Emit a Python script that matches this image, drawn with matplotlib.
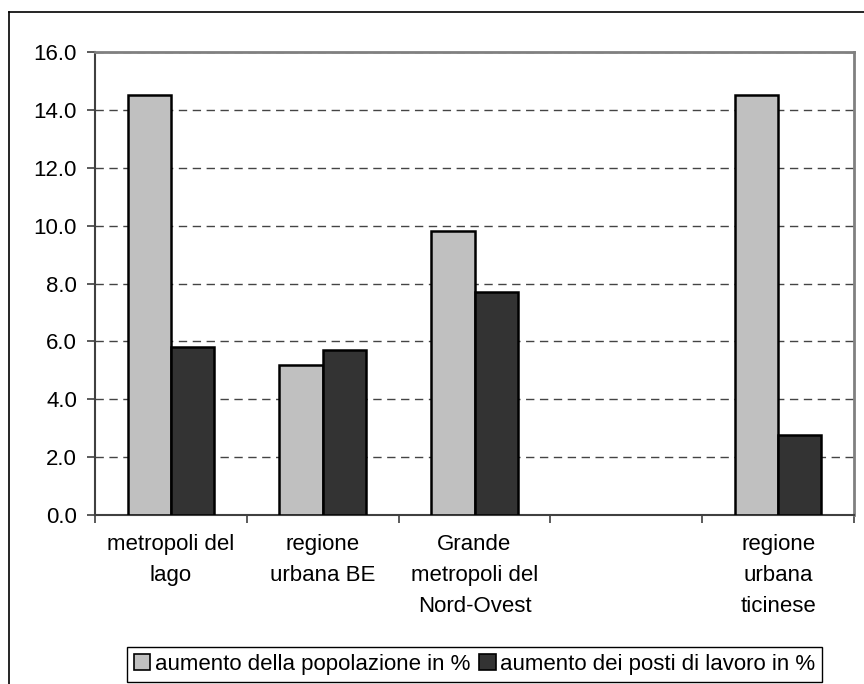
import numpy as np
import matplotlib
matplotlib.use("Agg")
import matplotlib.pyplot as plt
from matplotlib.patches import Patch
from matplotlib.lines import Line2D

plt.rcParams['font.family'] = ['Liberation Sans', 'DejaVu Sans']

categories = ["metropoli del\nlago", "regione\nurbana BE",
              "Grande\nmetropoli del\nNord-Ovest", "", "regione\nurbana\nticinese"]
popolazione = [14.5, 5.2, 9.8, np.nan, 14.5]
posti_lavoro = [5.8, 5.7, 7.7, np.nan, 2.75]
legend_labels = ["aumento della popolazione in %", "aumento dei posti di lavoro in %"]

fig = plt.figure(figsize=(8.64, 6.84), dpi=100)
ax = fig.add_axes([95 / 864, 1 - 515 / 684, 759 / 864, 463 / 684])

x = np.arange(len(categories))
w = 1 / 3.5
ax.bar(x - w / 2, popolazione, w, color="#c0c0c0", edgecolor="black", linewidth=1.8, zorder=3)
ax.bar(x + w / 2, posti_lavoro, w, color="#333333", edgecolor="black", linewidth=1.8, zorder=3)

ax.set_xlim(-0.5, len(categories) - 0.5)
ax.set_ylim(0, 16)
ax.set_yticks(np.arange(0, 16.1, 2))
ax.set_yticklabels([f"{v:.1f}" for v in np.arange(0, 16.1, 2)])
ax.yaxis.grid(True, linestyle=(0, (6, 4)), color="#444444", linewidth=1, zorder=0)

ax.set_xticks(x)
ax.set_xticklabels(categories, linespacing=1.6)
ax.set_xticks(np.arange(-0.5, len(categories), 1), minor=True)
ax.tick_params(axis="x", which="major", length=0, pad=14, labelsize=16)
ax.tick_params(axis="x", which="minor", length=6, width=1.2, color="#404040")
ax.tick_params(axis="y", length=6, width=1.2, color="#404040", pad=7, labelsize=16)

for s in ["left", "bottom"]:
    ax.spines[s].set_color("#404040")
    ax.spines[s].set_linewidth(1.5)
for s in ["top", "right"]:
    ax.spines[s].set_color("#808080")
    ax.spines[s].set_linewidth(2)

# outer chart frame (only left and top visible)
fig.add_artist(Line2D([9 / 864, 9 / 864], [0, 1 - 12 / 684], color="black", lw=1.2))
fig.add_artist(Line2D([9 / 864, 1], [1 - 12 / 684, 1 - 12 / 684], color="black", lw=1.2))

handles = [Patch(facecolor="#c0c0c0", edgecolor="black", linewidth=1.2),
           Patch(facecolor="#333333", edgecolor="black", linewidth=1.2)]
leg = fig.legend(handles, legend_labels, loc="center", bbox_to_anchor=(474.5 / 864, 1 - 664.5 / 684),
                 ncol=2, fontsize=16, frameon=True, fancybox=False, framealpha=1,
                 handlelength=0.75, handleheight=0.75, handletextpad=0.2,
                 columnspacing=0.4, borderpad=0.3, borderaxespad=0)
leg.get_frame().set_edgecolor("black")
leg.get_frame().set_linewidth(1)

fig.savefig("out.png", dpi=100)
